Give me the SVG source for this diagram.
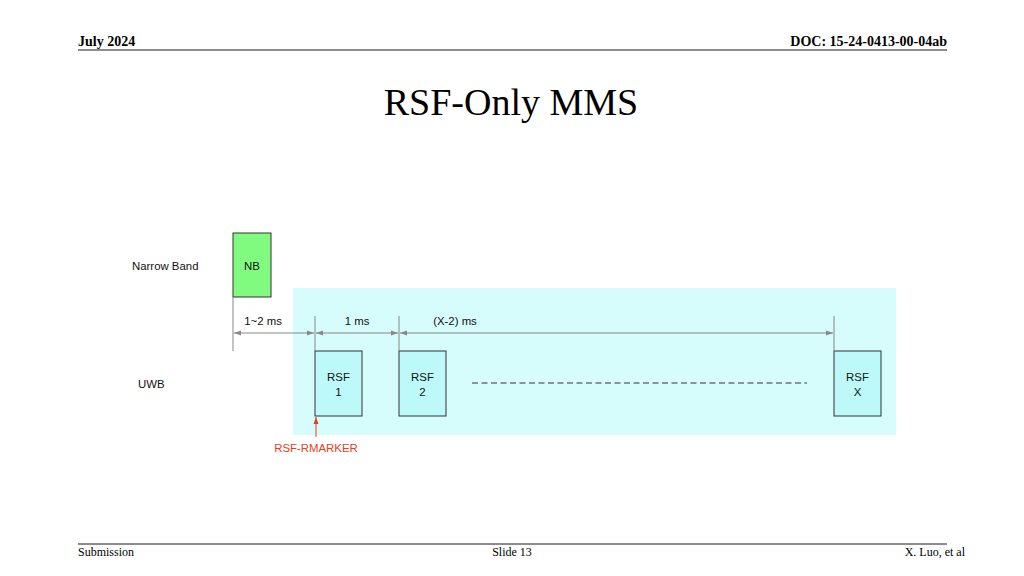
<svg xmlns="http://www.w3.org/2000/svg" width="1024" height="576" viewBox="0 0 1024 576">
<style>
.hdr{font-family:"Liberation Serif",serif;font-size:14px;font-weight:bold;fill:#000}
.ftr{font-family:"Liberation Serif",serif;font-size:12px;fill:#000}
.title{font-family:"Liberation Serif",serif;font-size:38px;fill:#000}
.lbl{font-family:"Liberation Sans",Arial,sans-serif;font-size:11.4px;fill:#111}
.red{font-family:"Liberation Sans",Arial,sans-serif;font-size:11.4px;fill:#e8401c}
.rsf{fill:#bdf9f9;stroke:#333;stroke-width:1}
.dim{stroke:#888;stroke-width:1;fill:none}
</style>
<defs>
<marker id="ah" viewBox="0 0 10 10" refX="10" refY="5" markerWidth="7" markerHeight="7" orient="auto-start-reverse"><path d="M0,1.5 L10,5 L0,8.5 z" fill="#888"/></marker>
<marker id="rah" viewBox="0 0 10 10" refX="10" refY="5" markerWidth="7" markerHeight="7" orient="auto"><path d="M0,1.5 L10,5 L0,8.5 z" fill="#e8401c"/></marker>
</defs>
<rect width="1024" height="576" fill="#fff"/>
<g id="header">
<text class="hdr" x="78" y="46">July 2024</text>
<text class="hdr" x="947" y="46" text-anchor="end">DOC: 15-24-0413-00-04ab</text>
<line x1="78" y1="50" x2="947" y2="50" stroke="#666" stroke-width="1.5"/>
</g>
<text class="title" x="511" y="115" text-anchor="middle">RSF-Only MMS</text>
<rect id="uwb-band" x="293" y="288" width="603" height="147" fill="#d6fcfc"/>
<text class="lbl" x="132" y="270">Narrow Band</text>
<text class="lbl" x="138" y="388">UWB</text>
<g id="nb"><rect x="233" y="233" width="38" height="64" fill="#80fb80" stroke="#333"/><text class="lbl" x="252" y="270" text-anchor="middle">NB</text></g>
<g id="rsf1"><rect class="rsf" x="315" y="351" width="47" height="65"/><text class="lbl" x="338.5" y="381" text-anchor="middle">RSF</text><text class="lbl" x="338.5" y="396" text-anchor="middle">1</text></g>
<g id="rsf2"><rect class="rsf" x="399" y="351" width="47" height="65"/><text class="lbl" x="422.5" y="381" text-anchor="middle">RSF</text><text class="lbl" x="422.5" y="396" text-anchor="middle">2</text></g>
<g id="rsfx"><rect class="rsf" x="834" y="351" width="47" height="65"/><text class="lbl" x="857.5" y="381" text-anchor="middle">RSF</text><text class="lbl" x="857.5" y="396" text-anchor="middle">X</text></g>
<g id="connectors">
<line class="dim" x1="233" y1="297" x2="233" y2="351"/>
<line class="dim" x1="315" y1="316" x2="315" y2="351"/>
<line class="dim" x1="399" y1="316" x2="399" y2="351"/>
<line class="dim" x1="834" y1="316" x2="834" y2="351"/>
<line class="dim" x1="234" y1="333" x2="314" y2="333" marker-start="url(#ah)" marker-end="url(#ah)"/>
<line class="dim" x1="316" y1="333" x2="398" y2="333" marker-start="url(#ah)" marker-end="url(#ah)"/>
<line class="dim" x1="400" y1="333" x2="833" y2="333" marker-start="url(#ah)" marker-end="url(#ah)"/>
<line x1="472" y1="383" x2="807" y2="383" stroke="#8496a0" stroke-width="2" stroke-dasharray="6,3.5"/>
<line x1="316" y1="437" x2="316" y2="417" stroke="#e8401c" stroke-width="1" marker-end="url(#rah)"/>
</g>
<text class="lbl" x="263" y="325" text-anchor="middle">1~2 ms</text>
<text class="lbl" x="357" y="325" text-anchor="middle">1 ms</text>
<text class="lbl" x="455" y="325" text-anchor="middle">(X-2) ms</text>
<text class="red" x="316" y="452" text-anchor="middle">RSF-RMARKER</text>
<g id="footer">
<line x1="78" y1="544" x2="947" y2="544" stroke="#666" stroke-width="1.5"/>
<text class="ftr" x="78" y="556">Submission</text>
<text class="ftr" x="512" y="556" text-anchor="middle">Slide 13</text>
<text class="ftr" x="965" y="556" text-anchor="end">X. Luo, et al</text>
</g>
</svg>
